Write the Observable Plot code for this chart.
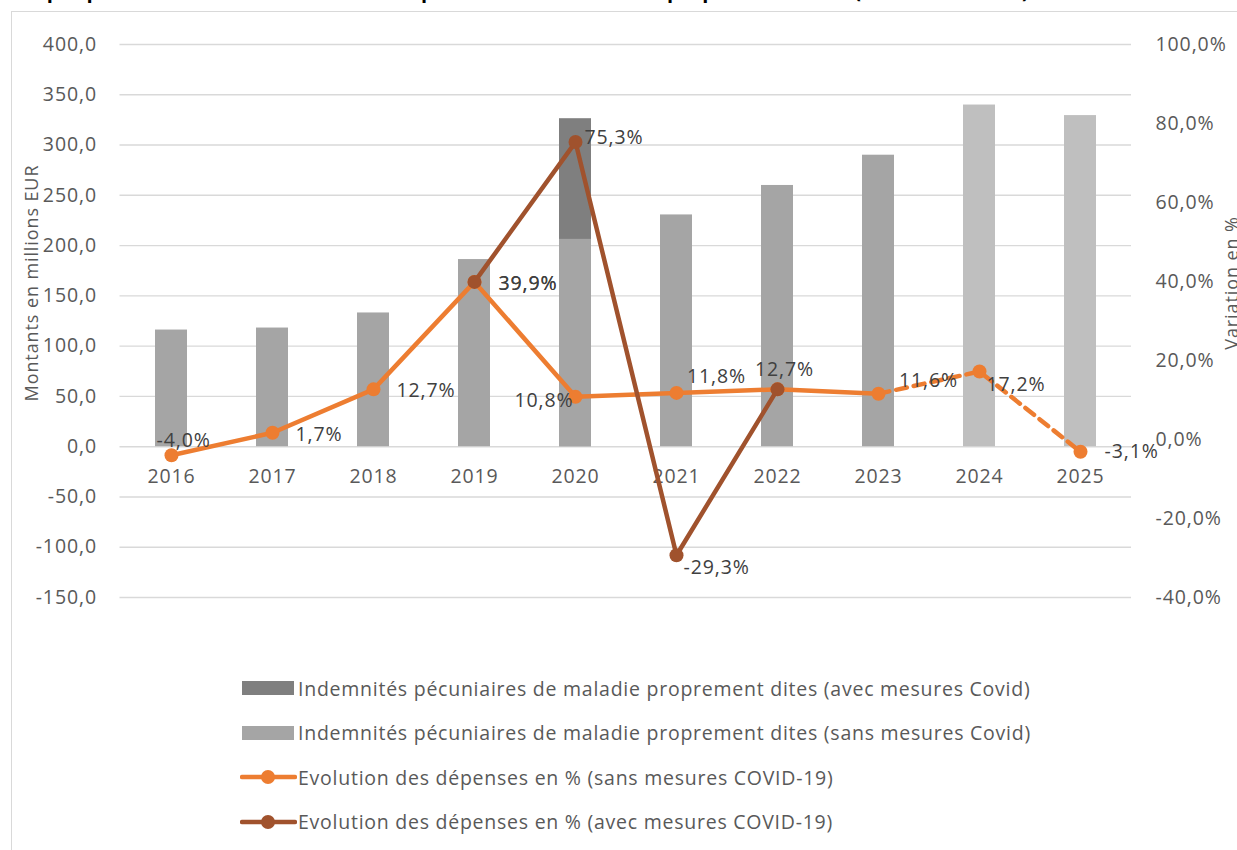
<!DOCTYPE html>
<html lang="fr">
<head>
<meta charset="utf-8">
<script src="https://cdn.jsdelivr.net/npm/d3@7"></script>
<script src="https://cdn.jsdelivr.net/npm/@observablehq/plot@0.6"></script>
<style>
  html, body { margin: 0; padding: 0; background: #fff; }
  body { width: 1237px; height: 850px; overflow: hidden; position: relative; font-family: "Open Sans", sans-serif; }
  #frame { position: absolute; left: 11px; top: 11px; width: 1300px; height: 900px; border: 1.5px solid #d9d9d9; box-sizing: border-box; }
  #title { position: absolute; left: 10px; top: -23px; font-weight: bold; font-size: 20px; letter-spacing: 0.4px; color: #000; white-space: nowrap; }
  .layer { position: absolute; left: 0; top: 0; }
  #legend { position: absolute; left: 240px; top: 666px; color: #595959; font-size: 19.5px; letter-spacing: 0.75px; }
  .row { display: flex; align-items: center; height: 44.5px; }
  .row svg { flex: none; margin-right: 1px; }
</style>
</head>
<body>
<div id="frame"></div>
<div id="title">Graphique 5 : Evolution des indemnités pécuniaires de maladie proprement dites (en millions EUR)</div>
<div id="chart"></div>
<div id="legend"></div>
<script>
// Années
const years = [2016, 2017, 2018, 2019, 2020, 2021, 2022, 2023, 2024, 2025];
const projectedYears = [2024, 2025];

// Indemnités pécuniaires de maladie proprement dites (millions EUR)
const montantSans = [116.0, 118.0, 133.0, 186.1, 206.2, 230.5, 259.8, 289.9, 339.8, 329.3];
const montantAvec = [null, null, null, null, 326.2, null, null, null, null, null];

// Evolution des dépenses en %
const evolSans = [-4.0, 1.7, 12.7, 39.9, 10.8, 11.8, 12.7, 11.6, 17.2, -3.1];
const evolAvec = [null, null, null, 39.9, 75.3, -29.3, 12.7, null, null, null];
// valeurs affichées en étiquette (la série sans mesures n'étiquette pas 2022)
const labelSansShown = [true, true, true, true, true, true, false, true, true, true];

// Graduations
const ticksMontant = [-150, -100, -50, 0, 50, 100, 150, 200, 250, 300, 350, 400];
const ticksEvol = [-40, -20, 0, 20, 40, 60, 80, 100];

const legendItems = [
  {label: "Indemnités pécuniaires de maladie proprement dites (avec mesures Covid)", kind: "bar", color: "#7f7f7f"},
  {label: "Indemnités pécuniaires de maladie proprement dites (sans mesures Covid)", kind: "bar", color: "#a5a5a5"},
  {label: "Evolution des dépenses en % (sans mesures COVID-19)", kind: "line", color: "#ed7d31"},
  {label: "Evolution des dépenses en % (avec mesures COVID-19)", kind: "line", color: "#a0522d"}
];

const ORANGE = "#ed7d31", BROWN = "#a0522d";
const FS = 19.5;
const fmt1 = d => d.toFixed(1).replace(".", ",");

const rows = years.map((year, i) => ({
  year: String(year),
  sans: montantSans[i],
  avec: montantAvec[i],
  evolSans: evolSans[i],
  evolAvec: evolAvec[i],
  showSans: labelSansShown[i],
  projected: projectedYears.includes(year)
}));

// shared layout for both layers
const W = 1237, H = 640;
const layout = {
  width: W, height: H,
  marginTop: 44, marginBottom: 43, marginLeft: 119.5, marginRight: 106,
  style: {fontFamily: "Open Sans, sans-serif", fontSize: FS + "px", letterSpacing: "0.9px", color: "#595959", background: "transparent", overflow: "visible"}
};
const xScale = {type: "band", domain: years.map(String), paddingInner: 0.68, paddingOuter: 0.34, align: 0.5, axis: null};

// Layer 1: bars on the amounts axis
const bars = Plot.plot({
  ...layout,
  x: xScale,
  y: {domain: [-150, 400], axis: null},
  marks: [
    Plot.ruleY(ticksMontant, {stroke: "#d9d9d9", strokeWidth: 1.4}),
    Plot.barY(rows.filter(d => d.avec != null), {x: "year", y: "avec", fill: "#7f7f7f"}),
    Plot.barY(rows.filter(d => !d.projected), {x: "year", y: "sans", fill: "#a5a5a5"}),
    Plot.barY(rows.filter(d => d.projected), {x: "year", y: "sans", fill: "#bfbfbf"}),
    Plot.axisY(ticksMontant, {anchor: "left", tickSize: 0, tickPadding: 23, tickFormat: fmt1, label: null, fontSize: FS}),
    Plot.text(["Montants en millions EUR"], {frameAnchor: "left", textAnchor: "middle", rotate: -90, dx: -88, dy: -38, fontSize: 18, fill: "#595959"}),
    Plot.text(rows, {x: "year", y: () => 0, text: "year", dy: 30, fontSize: FS, fill: "#595959"})
  ]
});

// Layer 2: growth rates on the percentage axis
const sansRows = rows;
const solidSans = rows.filter(d => +d.year <= 2023);
const dashedSans = rows.filter(d => +d.year >= 2023);
const avecRows = rows.filter(d => d.evolAvec != null);
const pct = d => fmt1(d) + "%";

// label placement relative to each point
const placeSans = {
  "2016": {anchor: "start", dx: -15, dy: -15},
  "2017": {anchor: "start", dx: 23, dy: 2},
  "2018": {anchor: "start", dx: 23, dy: 1},
  "2019": {anchor: "start", dx: 24, dy: 2},
  "2020": {anchor: "end", dx: -2, dy: 4},
  "2021": {anchor: "middle", dx: 40, dy: -16},
  "2022": {anchor: "middle", dx: 7, dy: -20},
  "2023": {anchor: "middle", dx: 50, dy: -13},
  "2024": {anchor: "start", dx: 7, dy: 13},
  "2025": {anchor: "start", dx: 24, dy: 0}
};
const placeAvec = {
  "2019": {anchor: "start", dx: 24, dy: 2},
  "2020": {anchor: "start", dx: 9, dy: -4},
  "2021": {anchor: "start", dx: 7, dy: 13},
  "2022": {anchor: "middle", dx: 7, dy: -20}
};
const labelMarks = (data, field, place) =>
  data.map(d => {
    const p = place[d.year];
    return Plot.text([d], {x: "year", y: field, text: r => pct(r[field]), textAnchor: p.anchor, dx: p.dx, dy: p.dy, fontSize: FS, fill: "#404040"});
  });

const lines = Plot.plot({
  ...layout,
  x: xScale,
  y: {domain: [-40, 100], axis: null},
  marks: [
    Plot.axisY(ticksEvol, {anchor: "right", tickSize: 0, tickPadding: 24, tickFormat: d => fmt1(d) + "%", label: null, fontSize: FS}),
    Plot.text(["Variation en %"], {frameAnchor: "right", textAnchor: "middle", rotate: -90, dx: 101, dy: -38, fontSize: 18, fill: "#595959"}),
    Plot.line(solidSans, {x: "year", y: "evolSans", stroke: ORANGE, strokeWidth: 4.5, strokeLinejoin: "round"}),
    Plot.line(dashedSans, {x: "year", y: "evolSans", stroke: ORANGE, strokeWidth: 4.5, strokeDasharray: "11,7"}),
    Plot.dot(sansRows, {x: "year", y: "evolSans", r: 7, fill: ORANGE}),
    Plot.line(avecRows, {x: "year", y: "evolAvec", stroke: BROWN, strokeWidth: 4.5, strokeLinejoin: "round"}),
    Plot.dot(avecRows, {x: "year", y: "evolAvec", r: 7, fill: BROWN}),
    ...labelMarks(sansRows.filter(d => d.showSans), "evolSans", placeSans),
    ...labelMarks(avecRows, "evolAvec", placeAvec)
  ]
});

const chart = document.getElementById("chart");
bars.classList.add("layer");
lines.classList.add("layer");
chart.append(bars, lines);

// legend
const legend = d3.select("#legend");
for (const item of legendItems) {
  const row = legend.append("div").attr("class", "row");
  const sw = row.append("svg").attr("width", 57).attr("height", 20);
  if (item.kind === "bar") {
    sw.append("rect").attr("x", 2).attr("y", 3).attr("width", 52).attr("height", 14).attr("fill", item.color);
  } else {
    sw.append("line").attr("x1", 2).attr("x2", 55).attr("y1", 10).attr("y2", 10)
      .attr("stroke", item.color).attr("stroke-width", 4.5).attr("stroke-linecap", "round");
    sw.append("circle").attr("cx", 28).attr("cy", 10).attr("r", 7).attr("fill", item.color);
  }
  row.append("span").text(item.label);
}
</script>
</body>
</html>
